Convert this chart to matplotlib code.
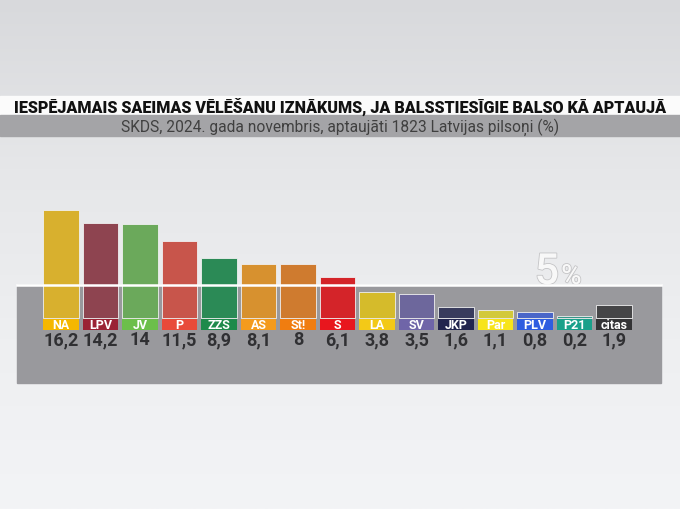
import numpy as np
import matplotlib.pyplot as plt
import matplotlib.patheffects as pe
from matplotlib.patches import Rectangle
from matplotlib.colors import LinearSegmentedColormap

# Data
parties = ['NA', 'LPV', 'JV', 'P', 'ZZS', 'AS', 'St!', 'S', 'LA', 'SV',
           'JKP', 'Par', 'PLV', 'P21', 'citas']
values = [16.2, 14.2, 14, 11.5, 8.9, 8.1, 8, 6.1, 3.8, 3.5, 1.6, 1.1, 0.8, 0.2, 1.9]
value_labels = ['16,2', '14,2', '14', '11,5', '8,9', '8,1', '8', '6,1', '3,8', '3,5',
                '1,6', '1,1', '0,8', '0,2', '1,9']
threshold = 5

title = 'IESPĒJAMAIS SAEIMAS VĒLĒŠANU IZNĀKUMS, JA BALSSTIESĪGIE BALSO KĀ APTAUJĀ'
subtitle = 'SKDS, 2024. gada novembris, aptaujāti 1823 Latvijas pilsoņi (%)'

# Bar colours and label box colours
bar_colors = ['#d8b02e', '#8e4450', '#6ba95b', '#c8554b', '#2b8a56', '#d7912f',
              '#cf7b2f', '#d42429', '#d5bb2b', '#6d679c', '#393c5d', '#d2c93b',
              '#4a66c8', '#3a958a', '#454547']
box_colors = ['#f5b700', '#9a2334', '#6cbf4a', '#e84a3a', '#1e8a4b', '#f49b1d',
              '#f07d10', '#e8161e', '#f3c917', '#6f65a8', '#22244e', '#f7e41a',
              '#2e5de0', '#1aa08a', '#333335']

plt.rcParams['font.family'] = ['Roboto', 'DejaVu Sans']

fig = plt.figure(figsize=(6.8, 5.1), dpi=100)

# Background gradient
bg = fig.add_axes([0, 0, 1, 1], zorder=0)
grad = np.linspace(0, 1, 256).reshape(-1, 1)
cmap = LinearSegmentedColormap.from_list('bg', ['#d8d9dc', '#e6e7e9', '#eeeff1', '#f3f4f6'])
bg.imshow(grad, aspect='auto', cmap=cmap, extent=[0, 1, 0, 1])
bg.set_axis_off()

# Title and subtitle bands
fig.patches.append(Rectangle((0.0, 1 - 116 / 510), 1, 19 / 510, transform=fig.transFigure,
                             color='#fbfbfb', zorder=1))
fig.patches.append(Rectangle((0, 1 - 137 / 510), 1, 21 / 510, transform=fig.transFigure,
                             color='#a4a4a7', zorder=1))
fig.text(0.5, 1 - 106.5 / 510, title, ha='center', va='center', fontsize=11.6,
         fontweight='heavy', color='#111111', zorder=2)
fig.text(0.5, 1 - 127 / 510, subtitle, ha='center', va='center', fontsize=11.2,
         color='#404040', zorder=2)

# Main axes, mapped so that bar i sits at pixel 61 + 39.5 * i
ax = fig.add_axes([0, 0, 1, 1], zorder=2)
ax.patch.set_alpha(0)
px_x = 39.5
px_y = 6.67
ax.set_xlim((0 - 61) / px_x, (680 - 61) / px_x)
ax.set_ylim((319 - 510) / px_y, 319 / px_y)
ax.set_axis_off()

x = np.arange(len(parties))
left_edge = (17 - 61) / px_x
right_edge = (661 - 61) / px_x
panel_bottom = (319 - 384) / px_y

# Gray panel below the threshold line
ax.add_patch(Rectangle((left_edge, panel_bottom), right_edge - left_edge,
                       threshold - panel_bottom, color='#99999d', zorder=1))

ax.bar(x, values, width=0.91, bottom=0.05, color=bar_colors,
       edgecolor='#f0f0f0', linewidth=0.6, zorder=2)

# Threshold line
ax.plot([left_edge, right_edge], [threshold, threshold], color='#ffffff', lw=1.8, zorder=4)
shadow = [pe.withStroke(linewidth=1.2, foreground='#c4c4c6')]
ax.text(x[12] + 0.3, threshold + 0.1, '5', fontsize=31, color='#f8f8f8',
        ha='center', va='baseline', fontweight='medium', zorder=3, path_effects=shadow)
ax.text(x[12] + 0.92, threshold + 0.1, '%', fontsize=20, color='#f8f8f8',
        ha='center', va='baseline', fontweight='medium', zorder=3, path_effects=shadow)

# Party label boxes and values
ax.bar(x, [-1.65] * len(x), width=0.91, bottom=-0.15, color=box_colors, zorder=5)
for xi, name, lab in zip(x, parties, value_labels):
    ax.text(xi, -0.98, name, ha='center', va='center', fontsize=9,
            fontweight='bold', color='white', zorder=6)
    ax.text(xi, -3.2, lab, ha='center', va='center', fontsize=13,
            fontweight='bold', color='#303033', zorder=6)

fig.savefig('out.png', dpi=100)
